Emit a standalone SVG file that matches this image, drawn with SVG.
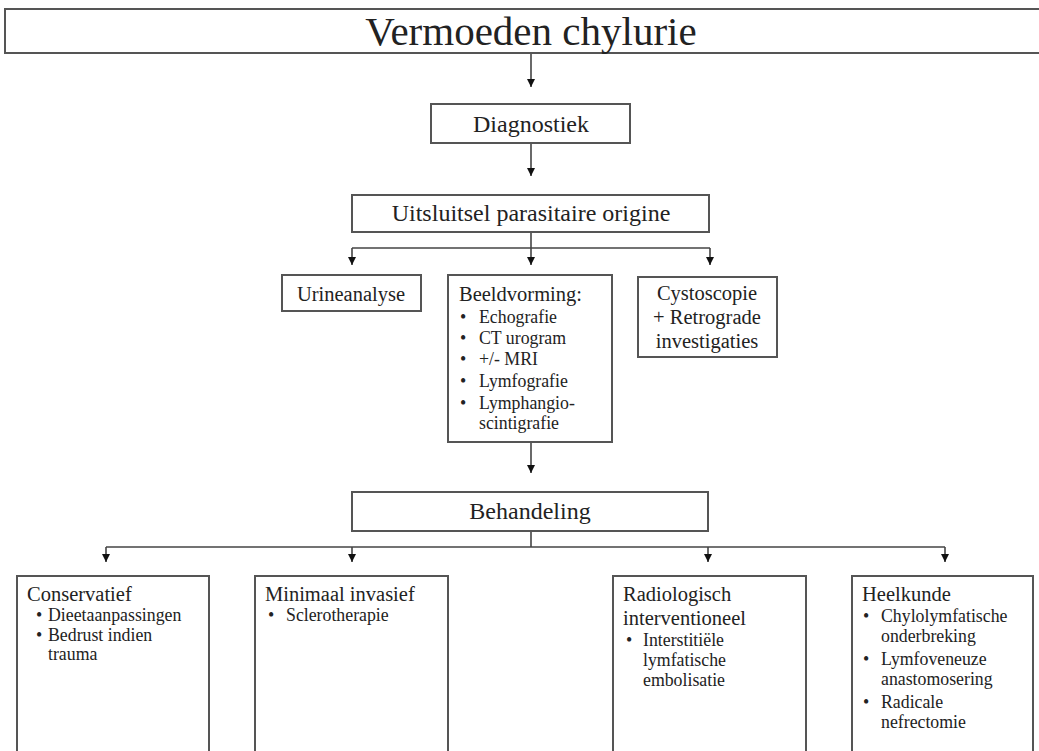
<svg xmlns="http://www.w3.org/2000/svg" width="1039" height="751" viewBox="0 0 1039 751">
<style>
.box{fill:#fff;stroke:#555;stroke-width:2}
.ln{fill:none;stroke:#444;stroke-width:1.6}
text{font-family:"Liberation Serif","Times New Roman",serif;fill:#222}
.t24{font-size:24px}
.h{font-size:20.5px}
.b{font-size:17.8px}
.c{text-anchor:middle}
</style>
<defs>
<marker id="arr" markerWidth="8" markerHeight="9" refX="8" refY="4" orient="auto" markerUnits="userSpaceOnUse" viewBox="0 0 8 8">
<path d="M0,0 L8,4 L0,8 Z" fill="#111"/>
</marker>
</defs>
<rect width="1039" height="751" fill="#fff"/>
<g id="connectors">
<line class="ln" x1="531" y1="53" x2="531" y2="87" marker-end="url(#arr)"/>
<line class="ln" x1="531" y1="143" x2="531" y2="176" marker-end="url(#arr)"/>
<line class="ln" x1="531" y1="232" x2="531" y2="248"/>
<line class="ln" x1="352" y1="248" x2="710" y2="248"/>
<line class="ln" x1="352" y1="248" x2="352" y2="265" marker-end="url(#arr)"/>
<line class="ln" x1="531" y1="248" x2="531" y2="265" marker-end="url(#arr)"/>
<line class="ln" x1="710" y1="248" x2="710" y2="265" marker-end="url(#arr)"/>
<line class="ln" x1="531" y1="442" x2="531" y2="473" marker-end="url(#arr)"/>
<line class="ln" x1="531" y1="531" x2="531" y2="547"/>
<line class="ln" x1="106" y1="547" x2="945" y2="547"/>
<line class="ln" x1="106" y1="547" x2="106" y2="562" marker-end="url(#arr)"/>
<line class="ln" x1="352" y1="547" x2="352" y2="562" marker-end="url(#arr)"/>
<line class="ln" x1="708" y1="547" x2="708" y2="562" marker-end="url(#arr)"/>
<line class="ln" x1="945" y1="547" x2="945" y2="562" marker-end="url(#arr)"/>
</g>
<g id="vermoeden">
<rect class="box" x="5" y="9" width="1050" height="44"/>
<text x="531" y="45" class="c" style="font-size:41px">Vermoeden chylurie</text>
</g>
<g id="diagnostiek">
<rect class="box" x="431" y="104" width="199" height="39"/>
<text x="531" y="132" class="c t24">Diagnostiek</text>
</g>
<g id="uitsluitsel">
<rect class="box" x="352" y="195" width="357" height="37"/>
<text x="531" y="221" class="c t24">Uitsluitsel parasitaire origine</text>
</g>
<g id="urineanalyse">
<rect class="box" x="282" y="275" width="139" height="36"/>
<text x="351" y="301" class="c h">Urineanalyse</text>
</g>
<g id="beeldvorming">
<rect class="box" x="448" y="275" width="164" height="167"/>
<text x="459" y="301" class="h">Beeldvorming:</text>
<g class="b">
<text x="460" y="323">•</text><text x="479" y="323">Echografie</text>
<text x="460" y="344">•</text><text x="479" y="344">CT urogram</text>
<text x="460" y="365">•</text><text x="479" y="365">+/- MRI</text>
<text x="460" y="387">•</text><text x="479" y="387">Lymfografie</text>
<text x="460" y="409">•</text><text x="479" y="409">Lymphangio-</text>
<text x="479" y="429">scintigrafie</text>
</g>
</g>
<g id="cystoscopie">
<rect class="box" x="638" y="277" width="139" height="80"/>
<text x="707" y="300" class="c h">Cystoscopie</text>
<text x="707" y="324" class="c h">+ Retrograde</text>
<text x="707" y="348" class="c h">investigaties</text>
</g>
<g id="behandeling">
<rect class="box" x="352" y="492" width="356" height="39"/>
<text x="530" y="519" class="c t24">Behandeling</text>
</g>
<g id="conservatief">
<rect class="box" x="17" y="576" width="192" height="190"/>
<text x="27" y="601" class="h">Conservatief</text>
<g class="b">
<text x="36" y="621">•</text><text x="48" y="621">Dieetaanpassingen</text>
<text x="36" y="641">•</text><text x="48" y="641">Bedrust indien</text>
<text x="48" y="660">trauma</text>
</g>
</g>
<g id="minimaal">
<rect class="box" x="255" y="576" width="193" height="190"/>
<text x="265" y="601" class="h">Minimaal invasief</text>
<g class="b">
<text x="268" y="621">•</text><text x="286" y="621">Sclerotherapie</text>
</g>
</g>
<g id="radiologisch">
<rect class="box" x="613" y="576" width="193" height="190"/>
<text x="623" y="601" class="h">Radiologisch</text>
<text x="623" y="625" class="h">interventioneel</text>
<g class="b">
<text x="626" y="646">•</text><text x="643" y="646">Interstitiële</text>
<text x="643" y="666">lymfatische</text>
<text x="643" y="686">embolisatie</text>
</g>
</g>
<g id="heelkunde">
<rect class="box" x="852" y="576" width="181" height="190"/>
<text x="862" y="601" class="h">Heelkunde</text>
<g class="b">
<text x="863" y="622">•</text><text x="881" y="622">Chylolymfatische</text>
<text x="881" y="642">onderbreking</text>
<text x="863" y="665">•</text><text x="881" y="665">Lymfoveneuze</text>
<text x="881" y="685">anastomosering</text>
<text x="863" y="708">•</text><text x="881" y="708">Radicale</text>
<text x="881" y="728">nefrectomie</text>
</g>
</g>
</svg>
